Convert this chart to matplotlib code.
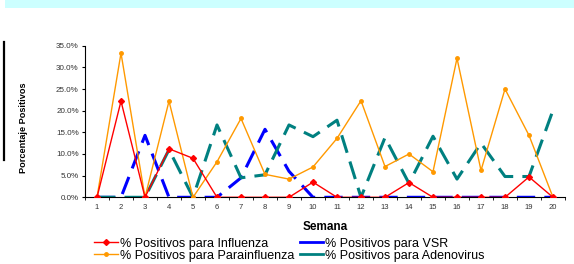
import matplotlib.pyplot as plt
from matplotlib.ticker import PercentFormatter, FixedLocator
from matplotlib.patches import Rectangle
from matplotlib.lines import Line2D

plt.rcParams['font.family'] = ['Liberation Sans', 'DejaVu Sans']

semanas = list(range(1, 21))
influenza = [0, 22.2, 0, 11.2, 9.0, 0, 0, 0, 0, 3.5, 0, 0, 0, 3.4, 0, 0, 0, 0, 4.7, 0]
vsr = [0, 0, 14.3, 0, 0, 0, 4.5, 15.7, 6.0, 0, 0, 0, 0, 0, 0, 0, 0, 0, 0, 0]
parainfluenza = [0, 33.3, 0, 22.2, 0, 8.2, 18.2, 5.3, 4.2, 7.0, 13.6, 22.3, 7.1, 10.0, 5.9, 32.1, 6.2, 25.0, 14.3, 0]
adenovirus = [0, 0, 0, 11.0, 0, 16.7, 4.5, 5.2, 16.7, 14.0, 17.8, 0, 13.8, 3.2, 14.1, 4.2, 12.5, 4.8, 4.8, 20.1]

fig = plt.figure(figsize=(5.74, 2.64), dpi=100)
W, H = 574, 264
ax = fig.add_axes([85 / W, 1 - 197.3 / H, 480 / W, 151.6 / H])

ax.plot(semanas, influenza, color='#FF0000', lw=1, marker='D', ms=3,
        label='% Positivos para Influenza', zorder=4)
ax.plot(semanas, parainfluenza, color='#FF9900', lw=1, marker='o', ms=2.5,
        label='% Positivos para Parainfluenza', zorder=3)
ax.plot(semanas, vsr, color='#0000FF', lw=2.2, ls=(0, (6, 3)),
        label='% Positivos para VSR', zorder=2)
ax.plot(semanas, adenovirus, color='#008080', lw=2.2, ls=(0, (6, 3)),
        label='% Positivos para Adenovirus', zorder=2)

ax.set_xlim(0.5, 20.5)
ax.set_ylim(0, 35)
ax.set_xticks(semanas)
ax.set_xticklabels([str(s) for s in semanas])
ax.xaxis.set_minor_locator(FixedLocator([s + 0.5 for s in range(0, 21)]))
ax.tick_params(axis='x', which='major', length=0, labelsize=5.5, pad=5, colors='#333333')
ax.tick_params(axis='x', which='minor', length=2.5, direction='out')
ax.set_yticks(range(0, 36, 5))
ax.yaxis.set_major_formatter(PercentFormatter(decimals=1))
ax.tick_params(axis='y', length=2.5, labelsize=5.8, pad=2, colors='#333333')
ax.tick_params(axis='both', which='both', color='black')
for s in ['top', 'right']:
    ax.spines[s].set_visible(False)
for s in ['left', 'bottom']:
    ax.spines[s].set_linewidth(0.8)

ax.set_xlabel('Semana', fontsize=8.5, fontweight='bold', labelpad=7)
fig.text(24 / W, 1 - 128 / H, 'Porcentaje Positivos', rotation=90,
         fontsize=6.6, fontweight='bold', ha='center', va='center')

fig.add_artist(Line2D([4 / W, 4 / W], [1 - 42 / H, 1 - 160 / H], color='black', lw=1.6))
fig.add_artist(Rectangle((5 / W, 1 - 7.5 / H), 569 / W, 7.5 / H, color='#CCFFFF', lw=0))

handles = [
    Line2D([], [], color='#FF0000', lw=1, marker='D', ms=3),
    Line2D([], [], color='#FF9900', lw=1, marker='o', ms=2.5),
    Line2D([], [], color='#0000FF', lw=2),
    Line2D([], [], color='#008080', lw=2),
]
labels = ['% Positivos para Influenza', '% Positivos para Parainfluenza',
          '% Positivos para VSR', '% Positivos para Adenovirus']
fig.legend(handles, labels, ncol=2, loc='upper left', bbox_to_anchor=(94 / W, 1 - 237.5 / H),
           frameon=False, fontsize=9, handlelength=1.9, handletextpad=0.15,
           columnspacing=0.45, labelspacing=0.0, borderaxespad=0, borderpad=0)

fig.savefig('out.png', dpi=100)
